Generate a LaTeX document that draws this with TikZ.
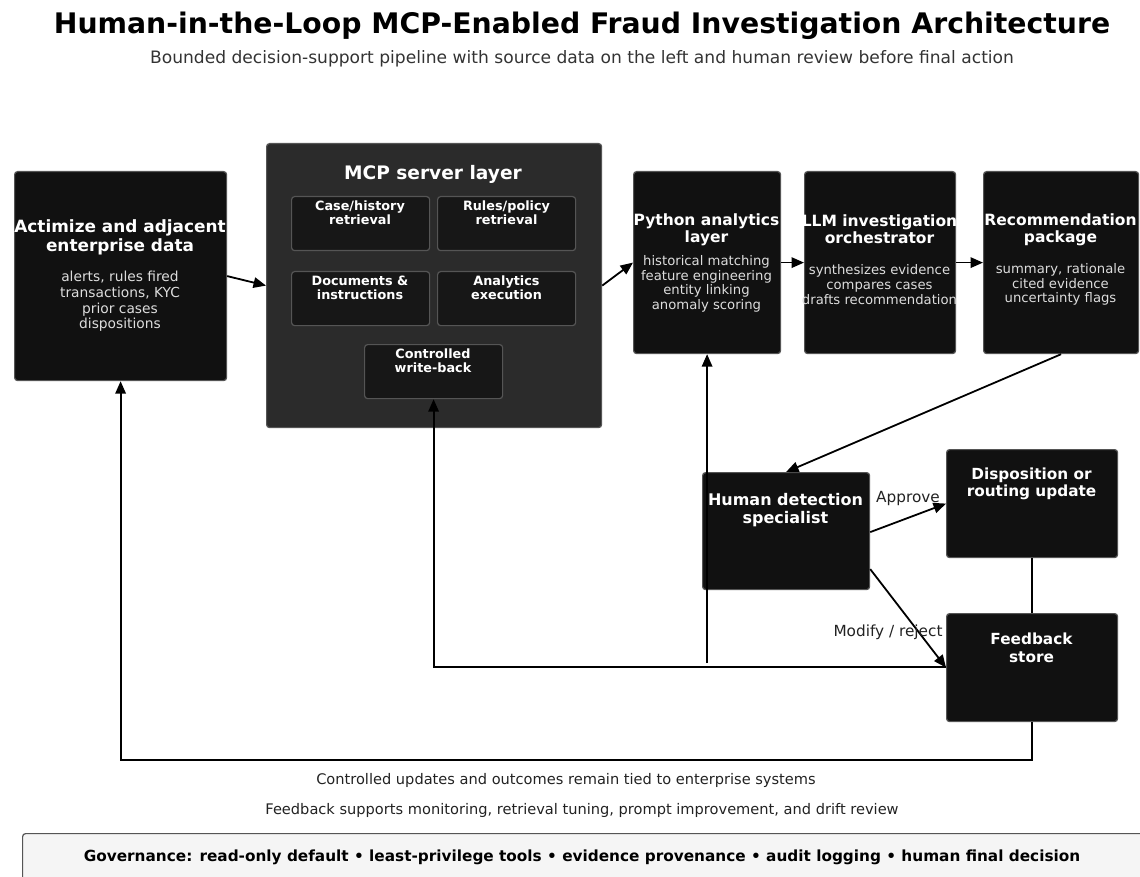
\documentclass[tikz,border=0pt]{standalone}
\usepackage{fontspec}
\setmainfont{DejaVu Sans}
\usetikzlibrary{arrows.meta}
\definecolor{boxfill}{HTML}{111111}
\definecolor{boxline}{HTML}{555555}
\definecolor{mcpfill}{HTML}{2B2B2B}
\definecolor{subfill}{HTML}{171717}
\definecolor{bodytext}{HTML}{DDDDDD}
\definecolor{govfill}{HTML}{F5F5F5}
\definecolor{captext}{HTML}{222222}
\definecolor{subtitlecol}{HTML}{333333}
\begin{document}
\begin{tikzpicture}[x=1pt,y=-1pt,
  darkbox/.style={draw=boxline, fill=boxfill, rounded corners=3pt, line width=1.2pt, anchor=north west, inner sep=0pt},
  mcpbox/.style={draw=boxline, fill=mcpfill, rounded corners=3pt, line width=1.2pt, anchor=north west, inner sep=0pt},
  subbox/.style={draw=boxline, fill=subfill, rounded corners=3pt, line width=1.2pt, anchor=north west, inner sep=0pt, minimum width=138pt, minimum height=54pt},
  ttl/.style={text=white, align=center, font=\fontsize{15.5}{17}\selectfont\bfseries, inner sep=0pt},
  bodytxt/.style={text=bodytext, align=center, font=\fontsize{13.2}{14.7}\selectfont, inner sep=0pt},
  subttl/.style={text=white, align=center, font=\fontsize{12.8}{14.2}\selectfont\bfseries, inner sep=0pt},
  lbltxt/.style={text=captext, font=\fontsize{15.3}{17}\selectfont, inner sep=0pt},
  captxt/.style={text=captext, font=\fontsize{14.6}{17}\selectfont, inner sep=0pt},
  arr/.style={-{Triangle[length=12.5pt,width=10.5pt]}, line width=1.8pt, black},
  plainline/.style={line width=1.8pt, black}]
\useasboundingbox (0,0) rectangle (1140,877);

% title
\node[font=\fontsize{28.3}{32}\selectfont\bfseries, text=black, inner sep=0pt] (title) at (582,26) {Human-in-the-Loop MCP-Enabled Fraud Investigation Architecture};
\node[font=\fontsize{17.1}{20}\selectfont, text=subtitlecol, inner sep=0pt] (subt) at (582,59) {Bounded decision-support pipeline with source data on the left and human review before final action};

% source box
\node[darkbox, minimum width=212pt, minimum height=209pt] (src) at (14,171) {};
\node[ttl, font=\fontsize{16.9}{19}\selectfont\bfseries] (srct) at (120,237.5) {Actimize and adjacent\\enterprise data};
\node[bodytxt, font=\fontsize{13.8}{15.7}\selectfont] (srcb) at (120,301.5) {alerts, rules fired\\transactions, KYC\\prior cases\\dispositions};

% MCP layer
\node[mcpbox, minimum width=335pt, minimum height=284pt] (mcp) at (266,143) {};
\node[ttl, font=\fontsize{18.6}{21}\selectfont\bfseries] (mcpt) at (433,174) {MCP server layer};
\node[subbox] (case) at (291,196) {};
\node[subttl] (caset) at (360,213) {Case/history\\retrieval};
\node[subbox] (rules) at (437,196) {};
\node[subttl] (rulest) at (506.5,213) {Rules/policy\\retrieval};
\node[subbox] (docs) at (291,271) {};
\node[subttl] (docst) at (360,288) {Documents \&\\instructions};
\node[subbox] (anx) at (437,271) {};
\node[subttl] (anxt) at (506.5,288) {Analytics\\execution};
\node[subbox] (wb) at (364,344) {};
\node[subttl] (wbt) at (433,361) {Controlled\\write-back};

% python
\node[darkbox, minimum width=147pt, minimum height=182pt] (py) at (633,171) {};
\node[ttl] (pyt) at (706.5,229.5) {Python analytics\\layer};
\node[bodytxt] (pyb) at (706.5,284) {historical matching\\feature engineering\\entity linking\\anomaly scoring};

% LLM
\node[darkbox, minimum width=151pt, minimum height=182pt] (llm) at (804,171) {};
\node[ttl] (llmt) at (879.5,229.5) {LLM investigation\\orchestrator};
\node[bodytxt] (llmb) at (879.5,284.5) {synthesizes evidence\\compares cases\\drafts recommendation};

% recommendation
\node[darkbox, minimum width=155pt, minimum height=182pt] (rec) at (983,171) {};
\node[ttl] (rect) at (1060.5,229.5) {Recommendation\\package};
\node[bodytxt] (recb) at (1060.5,284.5) {summary, rationale\\cited evidence\\uncertainty flags};

% human
\node[darkbox, minimum width=167pt, minimum height=117pt] (hum) at (702,472) {};
\node[ttl, font=\fontsize{16}{18}\selectfont\bfseries] (humt) at (785.5,510) {Human detection\\specialist};

% disposition
\node[darkbox, minimum width=171pt, minimum height=108pt] (disp) at (946,449) {};
\node[ttl, font=\fontsize{15.3}{17}\selectfont\bfseries] (dispt) at (1031.5,483.5) {Disposition or\\routing update};

% feedback
\node[darkbox, minimum width=171pt, minimum height=108pt] (fb) at (946,613) {};
\node[ttl, font=\fontsize{15.3}{17.5}\selectfont\bfseries] (fbt) at (1031.5,648) {Feedback\\store};

% connectors
\draw[arr] (src.east) -- (mcp.west);
\draw[arr] (mcp.east) -- (py.west);
\draw[arr] (py.east) -- (llm.west);
\draw[arr] (llm.east) -- (rec.west);
\draw[arr] (rec.south) -- (hum.north);
\draw[arr] ([yshift=-1pt]hum.east) -- (disp.west);
\draw[arr] ([yshift=-38pt]hum.east) -- (fb.west);
\draw[plainline] (disp.south) -- (fb.north);
\coordinate (fbleft) at (946,667);
\draw[arr] (fbleft) -- (fbleft -| wb.south) -- (wb.south);
\coordinate (jn) at (0,663);
\draw[arr] (py.south |- jn) -- (py.south);
\coordinate (bot) at (0,760);
\draw[arr] (fb.south) -- (fb.south |- bot) -- (src.south |- bot) -- (src.south);

% labels
\node[lbltxt] (appr) at (908,499) {Approve};
\node[lbltxt] (modr) at (888,632) {Modify / reject};

% captions
\node[captxt] (cap1) at (566,780) {Controlled updates and outcomes remain tied to enterprise systems};
\node[captxt] (cap2) at (582,810) {Feedback supports monitoring, retrieval tuning, prompt improvement, and drift review};

% governance
\node[draw=boxline, fill=govfill, rounded corners=3pt, line width=1.2pt, anchor=north west, minimum width=1140pt, minimum height=60pt, inner sep=0pt] (gov) at (22,833) {};
\node[text=black, font=\fontsize{15.3}{17}\selectfont\bfseries, inner sep=0pt] (govt) at (582,857) {Governance: read-only default • least-privilege tools • evidence provenance • audit logging • human final decision};
\end{tikzpicture}
\end{document}
